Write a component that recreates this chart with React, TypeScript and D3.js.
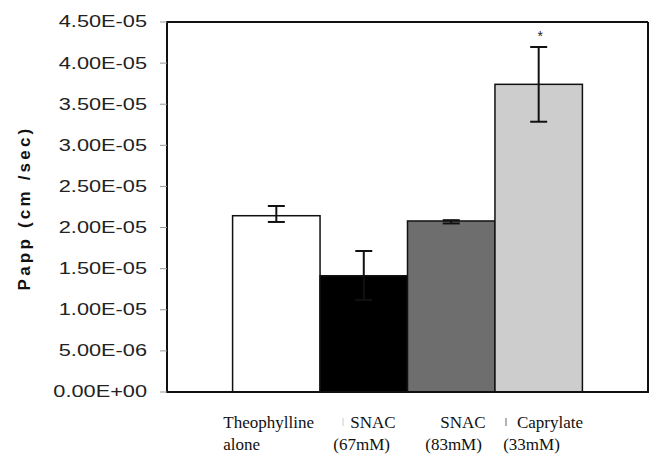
import React from "react";
import * as d3 from "d3";

const categories = ["Theophylline alone", "SNAC (67mM)", "SNAC (83mM)", "Caprylate (33mM)"];
const labelLines = [["Theophylline", "alone"], ["SNAC", "(67mM)"], ["SNAC", "(83mM)"], ["Caprylate", "(33mM)"]];
const labelOffsets = [[-53, -53], [-13.5, -30.5], [-11, -26], [-21.8, -35.5]];
const values = [2.144e-5, 1.414e-5, 2.08e-5, 3.742e-5];
const errUpper = [2.262e-5, 1.715e-5, 2.09e-5, 4.196e-5];
const errLower = [2.068e-5, 1.12e-5, 2.05e-5, 3.287e-5];
const fills = ["#ffffff", "#000000", "#6e6e6e", "#cdcdcd"];
const yTicks = [0, 5e-6, 1e-5, 1.5e-5, 2e-5, 2.5e-5, 3e-5, 3.5e-5, 4e-5, 4.5e-5];
const yTickLabels = ["0.00E+00", "5.00E-06", "1.00E-05", "1.50E-05", "2.00E-05", "2.50E-05", "3.00E-05", "3.50E-05", "4.00E-05", "4.50E-05"];
const significant = [false, false, false, true];

const SANS = "'Liberation Sans', Arial, sans-serif";
const SERIF = "'Liberation Serif', 'Times New Roman', 'DejaVu Serif', serif";

export default function App() {
  const W = 651, H = 457;
  const left = 167, right = 648, top = 22, bottom = 392;
  const x = d3.scaleBand<string>().domain(categories).range([left, right]).paddingInner(0).paddingOuter(0.75);
  const y = d3.scaleLinear().domain([0, 4.5e-5]).range([bottom, top]);
  const bw = x.bandwidth();
  return (
    <svg width={W} height={H} style={{ position: "absolute", left: 0, top: 0, background: "#fff" }}>
      <rect x={0} y={0} width={W} height={H} fill="#fff" />
      <line x1={left} x2={right} y1={top} y2={top} stroke="#111" strokeWidth={2} />
      <line x1={right} x2={right} y1={top} y2={bottom} stroke="#111" strokeWidth={2} />
      {categories.map((c, i) => (
        <rect key={c} x={x(c)!} y={y(values[i])} width={bw} height={bottom - y(values[i])}
          fill={fills[i]} stroke="#111" strokeWidth={1.5} />
      ))}
      {categories.map((c, i) => {
        const cx = x(c)! + bw / 2;
        const cap = 8.5;
        return (
          <g key={"e" + c} stroke="#111" strokeWidth={2}>
            <line x1={cx} x2={cx} y1={y(errUpper[i])} y2={y(errLower[i])} />
            <line x1={cx - cap} x2={cx + cap} y1={y(errUpper[i])} y2={y(errUpper[i])} />
            <line x1={cx - cap} x2={cx + cap} y1={y(errLower[i])} y2={y(errLower[i])} />
          </g>
        );
      })}
      {categories.map((c, i) => significant[i] ? (
        <text key={"s" + c} x={x(c)! + bw / 2 + 1.5} y={y(errUpper[i]) - 6} textAnchor="middle"
          fontFamily={SANS} fontSize={14} fill="#222">*</text>
      ) : null)}
      <line x1={left} x2={left} y1={top - 1} y2={bottom + 1} stroke="#111" strokeWidth={2} />
      <line x1={left} x2={right + 1} y1={bottom} y2={bottom} stroke="#111" strokeWidth={2} />
      {yTicks.map((t, i) => (
        <g key={"t" + i}>
          <line x1={160} x2={left} y1={y(t)} y2={y(t)} stroke="#999" strokeWidth={1} />
          <g transform={`translate(147,${y(t)}) scale(1.36,1)`}>
            <text x={0} y={0} textAnchor="end" dominantBaseline="central"
              fontFamily={SANS} fontSize={16} fill="#222">
              {yTickLabels[i]}
            </text>
          </g>
        </g>
      ))}
      <text transform={`translate(30,208) rotate(-90)`} textAnchor="middle"
        fontFamily={SANS} fontWeight="bold" fontSize={17} letterSpacing={3.2} fill="#111">
        Papp (cm /sec)
      </text>
      {categories.map((c, i) => {
        const cx = x(c)! + bw / 2;
        return labelLines[i].map((ln, j) => (
          <text key={c + j} x={cx + labelOffsets[i][j]} y={428 + j * 22}
            fontFamily={SERIF} fontSize={17} fill="#111">{ln}</text>
        ));
      })}
      <line x1={343} x2={343} y1={418} y2={426} stroke="#ccc" strokeWidth={1} />
      <line x1={506} x2={506} y1={418} y2={426} stroke="#666" strokeWidth={1} />
    </svg>
  );
}
